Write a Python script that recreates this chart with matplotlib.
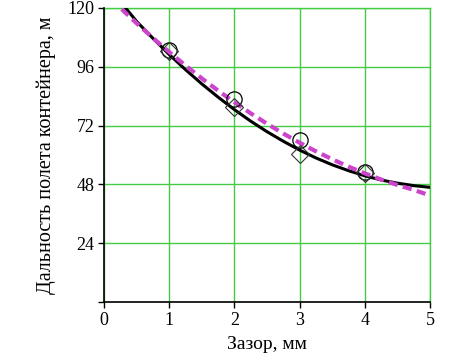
import numpy as np
import matplotlib.pyplot as plt

# measured points
gap = [1, 2, 3, 4]
range_circles = [103, 83, 66, 53]
range_diamonds = [102.5, 79.5, 60.5, 52.5]

# black fitted curve
fit_x = [0.33, 0.5, 0.75, 1.0, 1.25, 1.5, 1.75, 2.0, 2.25, 2.5, 2.75, 3.0,
         3.25, 3.5, 3.75, 4.0, 4.25, 4.5, 4.75, 5.0]
fit_y = [120, 114.5, 107.6, 101, 94.8, 89, 83.6, 78.5, 73.8, 69.5, 65.6, 62,
         58.8, 56, 53.6, 51.5, 49.8, 48.5, 47.5, 46.8]

# magenta dashed curve
alt_x = [0.27, 0.5, 0.75, 1.0, 1.25, 1.5, 1.75, 2.0, 2.25, 2.5, 2.75, 3.0,
         3.25, 3.5, 3.75, 4.0, 4.25, 4.5, 4.75, 5.0]
alt_y = [119.5, 113.75, 107.75, 102, 96.5, 91.25, 86.25, 81.5, 77, 72.75, 68.75, 65,
         61.5, 58.25, 55.25, 52.5, 50, 47.75, 45.75, 43.5]

plt.rcParams['font.family'] = ['Liberation Serif', 'DejaVu Serif']

fig = plt.figure(figsize=(4.71, 3.63), dpi=100)
ax = fig.add_axes([0.221, 0.168, 0.692, 0.81])

ax.plot(fit_x, fit_y, color='black', lw=2.2, zorder=3)
ax.plot(alt_x, alt_y, color='#cc44cc', lw=3, dashes=(2.2, 1.3), zorder=4)
ax.plot(gap, range_circles, 'o', ms=11, mfc='none', mec='black', mew=0.9, zorder=5)
ax.plot(gap, range_diamonds, 'D', ms=9, mfc='none', mec='#333333', mew=0.8, zorder=5)

ax.set_xlim(0, 5)
ax.set_ylim(0, 120)
ax.set_xticks([0, 1, 2, 3, 4, 5])
ax.set_yticks([0, 24, 48, 72, 96, 120])
ax.set_yticklabels(['', '24', '48', '72', '96', '120'])
ax.grid(True, color='#44cc44', lw=1)
ax.set_axisbelow(True)

for s in ['top', 'right']:
    ax.spines[s].set_visible(False)
for s in ['left', 'bottom']:
    ax.spines[s].set_linewidth(1.2)
ax.plot([5, 5], [0, 120], color='#44cc44', lw=1, clip_on=False, zorder=1)
ax.plot([0, 5], [120, 120], color='#44cc44', lw=1, clip_on=False, zorder=1)

ax.tick_params(direction='out', length=4, width=1, labelsize=13, pad=3)
ax.set_xlabel('Зазор, мм', fontsize=14, labelpad=5)
ax.set_ylabel('Дальность полета контейнера, м', fontsize=14.5, labelpad=8)

fig.savefig('out.png', dpi=100)
